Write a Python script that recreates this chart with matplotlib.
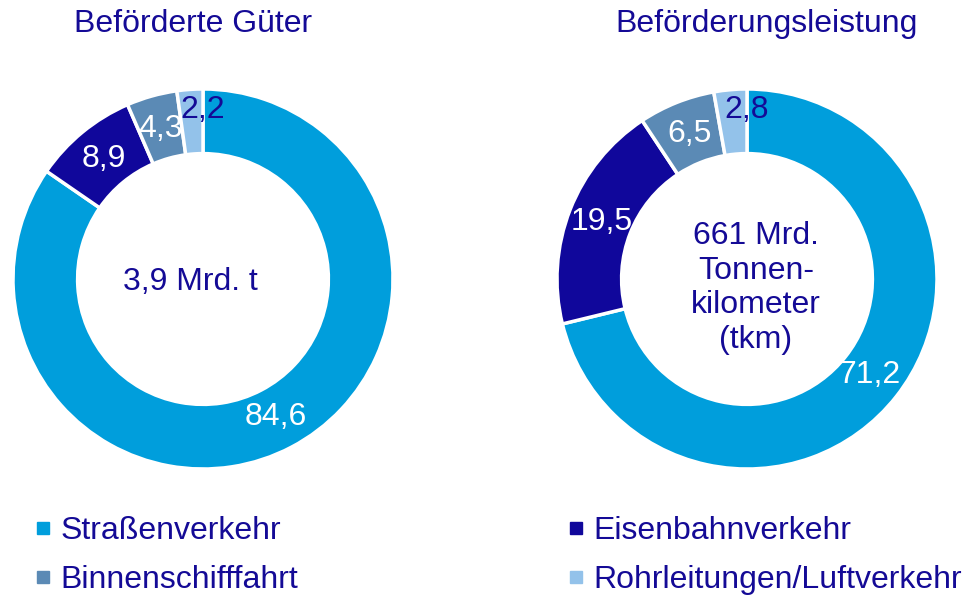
import matplotlib
matplotlib.use("Agg")
import numpy as np
import matplotlib.pyplot as plt
from matplotlib.lines import Line2D

plt.rcParams['font.family'] = ['Liberation Sans', 'DejaVu Sans']

categories = ["Straßenverkehr", "Eisenbahnverkehr", "Binnenschifffahrt", "Rohrleitungen/Luftverkehr"]
goods = [84.6, 8.9, 4.3, 2.2]
performance = [71.2, 19.5, 6.5, 2.8]
titles = ["Beförderte Güter", "Beförderungsleistung"]
center_texts = ["3,9 Mrd. t", "661 Mrd.\nTonnen-\nkilometer\n(tkm)"]

colors = ["#009EDC", "#10079B", "#5B8AB5", "#93C2EA"]
label_colors = ["white", "white", "white", "#140A96"]
text_color = "#140A96"

W, H = 964, 597
fig = plt.figure(figsize=(W / 100, H / 100), dpi=100)

def add_donut(cx, cy, r, values, title, center, ctx, cty, title_x):
    ax = fig.add_axes([(cx - r) / W, (H - cy - r) / H, 2 * r / W, 2 * r / H])
    wedges, texts = ax.pie(values, colors=colors, startangle=90, counterclock=False,
                           radius=1.0, labels=[f"{v:.1f}".replace(".", ",") for v in values],
                           labeldistance=0.82,
                           wedgeprops=dict(width=0.34, edgecolor="white", linewidth=2.5),
                           textprops=dict(fontsize=23))
    for t, c in zip(texts, label_colors):
        t.set_color(c)
        t.set_ha("center")
        t.set_va("center")
    # smallest segment label nudged to the top, as in the original layout
    texts[-1].set_position((0.0, 0.89))
    ax.set_xlim(-1, 1)
    ax.set_ylim(-1, 1)
    ax.set_aspect("equal")
    ax.axis("off")
    ax.text((ctx - cx) / r, -(cty - cy) / r, center, ha="center", va="center",
            fontsize=23, color=text_color, linespacing=1.2)
    fig.text(title_x / W, 1 - 24 / H, title, ha="center", va="center",
             fontsize=23, color=text_color)
    return ax

add_donut(203, 279, 190, goods, titles[0], center_texts[0], 190, 282, 193)
add_donut(747, 279, 190, performance, titles[1], center_texts[1], 756, 288, 767)

handles = [Line2D([0], [0], marker="s", linestyle="none", markersize=8,
                  markerfacecolor=c, markeredgecolor=c) for c in colors]
order = [0, 2, 1, 3]
leg = fig.legend([handles[i] for i in order], [categories[i] for i in order],
                 ncol=2, loc="upper left", bbox_to_anchor=(35 / W, 1 - 516 / H),
                 frameon=False, fontsize=23, handlelength=0.5, handletextpad=0.3,
                 columnspacing=8.45, labelspacing=0.6, borderpad=0, borderaxespad=0)
for t in leg.get_texts():
    t.set_color(text_color)

fig.savefig("out.png", dpi=100)
